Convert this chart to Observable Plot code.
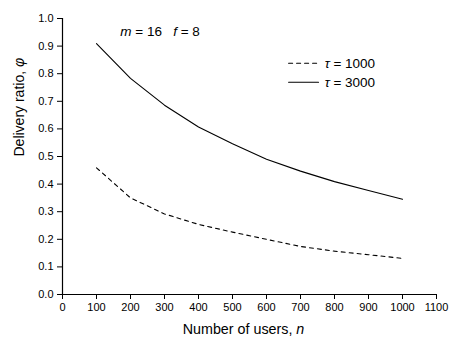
<!DOCTYPE html>
<html>
<head>
<meta charset="utf-8">
<script src="https://cdn.jsdelivr.net/npm/d3@7"></script>
<script src="https://cdn.jsdelivr.net/npm/@observablehq/plot@0.6"></script>
<style>
  body { margin: 0; background: #fff; }
  svg { font-family: "Liberation Sans", Arial, sans-serif; }
</style>
</head>
<body>
<div id="chart"></div>
<script>
const users = [100, 200, 300, 400, 500, 600, 700, 800, 900, 1000];
const ratioTau1000 = [0.459, 0.350, 0.292, 0.254, 0.226, 0.200, 0.174, 0.157, 0.144, 0.131];
const ratioTau3000 = [0.909, 0.783, 0.686, 0.607, 0.546, 0.490, 0.447, 0.409, 0.377, 0.345];
const xTicks = [0, 100, 200, 300, 400, 500, 600, 700, 800, 900, 1000, 1100];
const yTicks = [0, 0.1, 0.2, 0.3, 0.4, 0.5, 0.6, 0.7, 0.8, 0.9, 1.0];
const seriesNames = ["_τ_ = 1000", "_τ_ = 3000"];
const seriesDash = ["4,4", null];
const legendX = [665, 753];
const legendLabelX = 771;
const legendY = [0.838, 0.769];
const paramLabel = "_m_ = 16\u00a0\u00a0\u00a0_f_ = 8";
const paramPos = {x: 170, y: 0.952};
const xLabel = "Number of users, _n_";
const yLabel = "Delivery ratio, _φ_";

const series = [ratioTau1000, ratioTau3000];
const lineData = series.map((vals, i) => users.map((u, j) => ({n: u, v: vals[j], s: seriesNames[i]})));
const legendData = seriesNames.map((s, i) => legendX.map(x => ({x, y: legendY[i], s})));

const plot = Plot.plot({
  width: 449,
  height: 338,
  marginLeft: 62,
  marginRight: 13,
  marginTop: 18,
  marginBottom: 44,
  style: {fontFamily: "Liberation Sans, Arial, sans-serif", fontSize: "11px", color: "#000", background: "#fff"},
  x: {domain: [0, 1100]},
  y: {domain: [0, 1]},
  marks: [
    Plot.axisX({ticks: xTicks, tickSize: 5, tickFormat: d => String(d), label: null, fontSize: 11, tickPadding: 4}),
    Plot.axisY({ticks: yTicks, tickSize: 5, tickFormat: d3.format(".1f"), label: null, fontSize: 11, tickPadding: 4}),
    Plot.ruleX([0], {y1: 0, y2: 1, stroke: "#000", strokeWidth: 1.2}),
    Plot.ruleY([0], {x1: 0, x2: 1100, stroke: "#000", strokeWidth: 1.2}),
    ...lineData.map((d, i) => Plot.line(d, {x: "n", y: "v", stroke: "#000", strokeWidth: 1.1, strokeDasharray: seriesDash[i]})),
    ...legendData.map((d, i) => Plot.line(d, {x: "x", y: "y", stroke: "#000", strokeWidth: 1.1, strokeDasharray: seriesDash[i]})),
    Plot.text(seriesNames, {x: legendLabelX, y: (d, i) => legendY[i], text: d => d, textAnchor: "start", fontSize: 13.5}),
    Plot.text([paramLabel], {x: paramPos.x, y: paramPos.y, text: d => d, textAnchor: "start", fontSize: 13.5}),
    Plot.text([xLabel], {frameAnchor: "bottom", dx: -6, dy: 39, text: d => d, fontSize: 14.3}),
    Plot.text([yLabel], {frameAnchor: "left", dx: -43, rotate: -90, text: d => d, fontSize: 14})
  ]
});

// italicize segments marked with underscores
d3.select(plot).selectAll("text").each(function() {
  const t = this.textContent;
  if (!t.includes("_")) return;
  const parts = t.split("_");
  const sel = d3.select(this);
  sel.text(null);
  parts.forEach((p, i) => {
    if (!p) return;
    const ts = sel.append("tspan").text(p);
    if (i % 2 === 1) ts.attr("font-style", "italic");
  });
});

document.getElementById("chart").appendChild(plot);
</script>
</body>
</html>
